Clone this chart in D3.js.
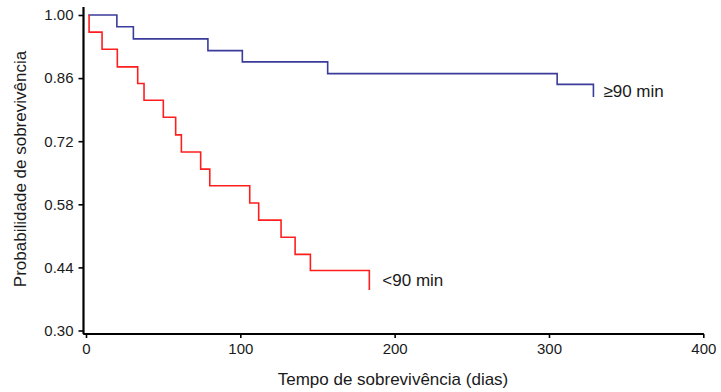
<!DOCTYPE html>
<html>
<head>
<meta charset="utf-8">
<script src="https://cdn.jsdelivr.net/npm/d3@7"></script>
<style>
  body { margin: 0; background: #fff; }
  svg text { font-family: "Liberation Sans", Arial, Helvetica, sans-serif; fill: #1a1a1a; }
</style>
</head>
<body>
<div id="chart"></div>
<script>
// survival curves
var groups = ["≥90 min", "<90 min"];
var colors = ["#3b3b9c", "#ff1e1e"];

var timeHigh = [1.5, 20, 30.7, 79, 101.3, 156.6, 305.3, 328.8];
var survHigh = [1.000, 0.974, 0.947, 0.921, 0.896, 0.870, 0.846, 0.818];

var timeLow = [2, 2, 10.4, 20.3, 33.5, 37.6, 50.1, 58.1, 61.8, 74.3, 80.2, 106.1, 111.9, 126.4, 135.5, 145.4, 183.6];
var survLow = [1.000, 0.962, 0.924, 0.885, 0.848, 0.811, 0.773, 0.734, 0.696, 0.658, 0.621, 0.583, 0.545, 0.507, 0.469, 0.433, 0.390];

var xTicks = [0, 100, 200, 300, 400];
var yTicks = [0.30, 0.44, 0.58, 0.72, 0.86, 1.00];

var width = 721, height = 392;

var x = d3.scaleLinear().domain([0, 400]).range([86, 703.3]);
var y = d3.scaleLinear().domain([0.30, 1.00]).range([330.5, 15]);

var svg = d3.select("#chart").append("svg")
    .attr("width", width)
    .attr("height", height);

// y axis
var yAxis = svg.append("g")
    .attr("transform", "translate(83.5,0)")
    .call(d3.axisLeft(y).tickValues(yTicks).tickFormat(d3.format(".2f")).tickSize(5).tickPadding(5));
yAxis.select(".domain").remove();
yAxis.append("line")
    .attr("y1", y(1.018)).attr("y2", y(0.292))
    .attr("stroke", "#000").attr("stroke-width", 2.2);
yAxis.selectAll(".tick line").attr("stroke-width", 1.6);
yAxis.selectAll(".tick text").style("font-size", "15px");

// x axis
var xAxis = svg.append("g")
    .attr("transform", "translate(0,334)")
    .call(d3.axisBottom(x).tickValues(xTicks).tickSize(4).tickPadding(5));
xAxis.select(".domain").remove();
xAxis.append("line")
    .attr("x1", x(-1.8)).attr("x2", x(400.4))
    .attr("stroke", "#000").attr("stroke-width", 2.2);
xAxis.selectAll(".tick line").attr("stroke-width", 1.6);
xAxis.selectAll(".tick text").style("font-size", "15px");

// axis titles
svg.append("text")
    .attr("x", 393).attr("y", 385)
    .attr("text-anchor", "middle")
    .style("font-size", "17px")
    .text("Tempo de sobrevivência (dias)");

svg.append("text")
    .attr("transform", "translate(26,169) rotate(-90)")
    .attr("text-anchor", "middle")
    .style("font-size", "17px")
    .text("Probabilidade de sobrevivência");

// curves
var line = d3.line()
    .x(function(d) { return x(d[0]); })
    .y(function(d) { return y(d[1]); })
    .curve(d3.curveStepAfter);

var series = [d3.zip(timeHigh, survHigh), d3.zip(timeLow, survLow)];

series.forEach(function(pts, i) {
    svg.append("path")
        .datum(pts)
        .attr("fill", "none")
        .attr("stroke", colors[i])
        .attr("stroke-width", 1.6)
        .attr("d", line);

    var last = pts[pts.length - 1], prev = pts[pts.length - 2];
    svg.append("text")
        .attr("x", x(last[0]) + (i === 0 ? 10 : 13))
        .attr("y", (y(last[1]) + y(prev[1])) / 2)
        .attr("dy", "0.35em")
        .style("font-size", "17px")
        .text(groups[i]);
});
</script>
</body>
</html>
